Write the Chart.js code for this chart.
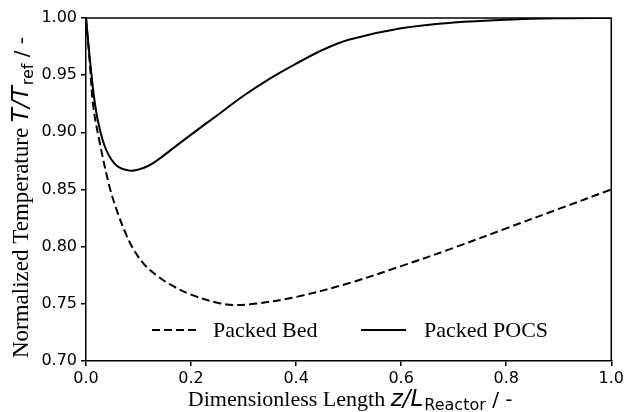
<!DOCTYPE html>
<html>
<head>
<meta charset="utf-8">
<script src="https://cdn.jsdelivr.net/npm/chart.js@4.4.1/dist/chart.umd.min.js"></script>
<style>
  html, body { margin: 0; padding: 0; background: #fff; }
  #wrap { width: 627px; height: 412px; }
</style>
</head>
<body>
<div id="wrap"><canvas id="chart"></canvas></div>
<script>
// values
const zBed = [0, 0.007, 0.014, 0.027, 0.045, 0.06, 0.077, 0.09, 0.11, 0.134, 0.16, 0.2, 0.25, 0.28, 0.32, 0.4, 0.5, 0.6, 0.7, 0.8, 0.9, 1.0];
const tBed = [1.0, 0.962, 0.922, 0.889, 0.852, 0.830, 0.810, 0.798, 0.785, 0.775, 0.767, 0.758, 0.751, 0.749, 0.750, 0.756, 0.768, 0.783, 0.799, 0.816, 0.833, 0.850];

const zPocs = [0, 0.0076, 0.017, 0.0265, 0.039, 0.058, 0.083, 0.1, 0.12, 0.14, 0.16, 0.2, 0.25, 0.3, 0.35, 0.4, 0.45, 0.5, 0.6, 0.7, 0.8, 0.9, 1.0];
const tPocs = [1.0, 0.963, 0.925, 0.902, 0.884, 0.871, 0.8665, 0.8675, 0.871, 0.877, 0.884, 0.898, 0.915, 0.932, 0.947, 0.960, 0.972, 0.981, 0.991, 0.996, 0.9985, 0.9997, 1.0];

const seriesNames = ["Packed Bed", "Packed POCS"];
const xTicks = [0, 0.2, 0.4, 0.6, 0.8, 1.0];
const yTicks = [0.70, 0.75, 0.80, 0.85, 0.90, 0.95, 1.00];

const SERIF = "'Liberation Serif', 'Times New Roman', serif";
const SANS = "'DejaVu Sans', sans-serif";

const toPoints = (xs, ys) => xs.map((x, i) => ({ x: x, y: ys[i] }));

// draw a row of text pieces (with optional subscripts) centred at cx
function drawPieces(ctx, pieces, cx, baseY) {
  ctx.textAlign = "left";
  ctx.textBaseline = "alphabetic";
  let total = 0;
  pieces.forEach(p => { ctx.font = p.font; total += ctx.measureText(p.text).width + (p.gap || 0); });
  let x = cx - total / 2;
  pieces.forEach(p => {
    ctx.font = p.font;
    ctx.fillText(p.text, x, baseY + (p.dy || 0));
    x += ctx.measureText(p.text).width + (p.gap || 0);
  });
}

const decorations = {
  id: "decorations",
  afterDraw(chart) {
    const ctx = chart.ctx;
    const a = chart.chartArea;
    ctx.save();

    // top and right spines
    ctx.strokeStyle = "#000";
    ctx.lineWidth = 1.5;
    ctx.beginPath();
    ctx.moveTo(a.left, a.top);
    ctx.lineTo(a.right, a.top);
    ctx.lineTo(a.right, a.bottom);
    ctx.stroke();

    // legend inside the plot
    const legendY = 330;
    const items = [{ x: 152, textX: 213 }, { x: 361, textX: 424 }];
    chart.data.datasets.forEach((ds, i) => {
      const it = items[i];
      ctx.strokeStyle = ds.borderColor;
      ctx.lineWidth = ds.borderWidth;
      ctx.setLineDash(ds.borderDash || []);
      ctx.beginPath();
      ctx.moveTo(it.x, legendY);
      ctx.lineTo(it.x + 45, legendY);
      ctx.stroke();
      ctx.setLineDash([]);
      ctx.fillStyle = "#000";
      ctx.font = "22px " + SERIF;
      ctx.textAlign = "left";
      ctx.textBaseline = "alphabetic";
      ctx.fillText(ds.label, it.textX, legendY + 7);
    });

    // x axis title
    ctx.fillStyle = "#000";
    drawPieces(ctx, [
      { text: "Dimensionless Length ", font: "22px " + SERIF },
      { text: "z/L", font: "oblique 23px " + SANS, gap: 1 },
      { text: "Reactor", font: "16px " + SANS, dy: 4 },
      { text: " / -", font: "20px " + SANS, gap: 3 }
    ], (a.left + a.right) / 2 + 3, 406);

    // y axis title
    ctx.translate(28, 196);
    ctx.rotate(-Math.PI / 2);
    drawPieces(ctx, [
      { text: "Normalized Temperature ", font: "23px " + SERIF },
      { text: "T/T", font: "oblique 23px " + SANS, gap: 1 },
      { text: "ref", font: "16px " + SANS, dy: 5 },
      { text: " / -", font: "20px " + SANS, gap: 3 }
    ], 0, 0);

    ctx.restore();
  }
};

new Chart(document.getElementById("chart"), {
  type: "line",
  data: {
    datasets: [
      {
        label: seriesNames[0],
        data: toPoints(zBed, tBed),
        borderColor: "#000",
        borderWidth: 2,
        borderDash: [8, 4],
        pointRadius: 0,
        tension: 0.35,
        fill: false
      },
      {
        label: seriesNames[1],
        data: toPoints(zPocs, tPocs),
        borderColor: "#000",
        borderWidth: 2,
        pointRadius: 0,
        tension: 0.35,
        fill: false
      }
    ]
  },
  options: {
    responsive: true,
    maintainAspectRatio: false,
    animation: false,
    layout: { padding: { top: 18, right: 13, left: 0, bottom: 0 } },
    plugins: { legend: { display: false }, tooltip: { enabled: false } },
    scales: {
      x: {
        type: "linear",
        min: 0,
        max: 1,
        afterBuildTicks: s => { s.ticks = xTicks.map(v => ({ value: v })); },
        afterFit: s => { s.height = 51; },
        ticks: {
          callback: v => Number(v).toFixed(1),
          font: { family: "DejaVu Sans", size: 16 },
          color: "#000",
          padding: 3,
          maxRotation: 0
        },
        grid: { drawOnChartArea: false, drawTicks: true, tickLength: 5, color: "#000", lineWidth: 1.5 },
        border: { display: true, color: "#000", width: 1.5 }
      },
      y: {
        type: "linear",
        min: 0.7,
        max: 1.0,
        afterBuildTicks: s => { s.ticks = yTicks.map(v => ({ value: v })); },
        afterFit: s => { s.width = 86; },
        ticks: {
          callback: v => Number(v).toFixed(2),
          font: { family: "DejaVu Sans", size: 16 },
          color: "#000",
          padding: 4
        },
        grid: { drawOnChartArea: false, drawTicks: true, tickLength: 5, color: "#000", lineWidth: 1.5 },
        border: { display: true, color: "#000", width: 1.5 }
      }
    }
  },
  plugins: [decorations]
});
</script>
</body>
</html>
